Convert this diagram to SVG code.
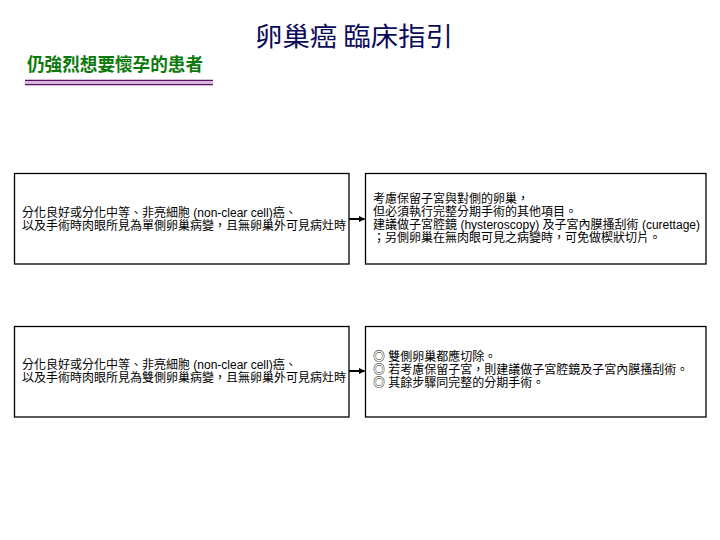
<svg xmlns="http://www.w3.org/2000/svg" width="720" height="540" viewBox="0 0 720 540">
<style>
.box{fill:#ffffff;stroke:#000000;stroke-width:1.3}
.t{font-family:"Liberation Sans","Noto Sans CJK TC",sans-serif;font-size:12px;fill:#000000}
.conn{stroke:#000000;stroke-width:2;fill:none}
</style>
<defs>
<marker id="ah" viewBox="0 0 10 10" refX="9" refY="5" markerWidth="3.2" markerHeight="3.2" orient="auto" markerUnits="strokeWidth">
<path d="M0,0 L10,5 L0,10 Z" fill="#000000"/>
</marker>
</defs>
<rect width="720" height="540" fill="#ffffff"/>
<g id="title">
<text x="255" y="46" font-family="'Noto Sans CJK TC',sans-serif" font-size="26" fill="#0a0a5a" textLength="198" lengthAdjust="spacingAndGlyphs">卵巢癌 臨床指引</text>
</g>
<g id="subtitle">
<text x="27" y="71" font-family="'Noto Sans CJK TC',sans-serif" font-size="18" font-weight="bold" fill="#0b7a0b" textLength="176" lengthAdjust="spacingAndGlyphs">仍強烈想要懷孕的患者</text>
<line x1="25" y1="80.5" x2="213" y2="80.5" stroke="#5e0a66" stroke-width="1.5"/>
<line x1="25" y1="82.5" x2="213" y2="82.5" stroke="#d8b0e0" stroke-width="1"/>
<line x1="25" y1="84.5" x2="213" y2="84.5" stroke="#5e0a66" stroke-width="1.5"/>
</g>
<g id="node1">
<rect class="box" x="14.5" y="173.5" width="334.5" height="90.5"/>
<text class="t" x="22" y="217">分化良好或分化中等、非亮細胞 (non-clear cell)癌、</text>
<text class="t" x="22" y="230" textLength="324" lengthAdjust="spacingAndGlyphs">以及手術時肉眼所見為單側卵巢病變，且無卵巢外可見病灶時</text>
</g>
<g id="node2">
<rect class="box" x="365.5" y="173.5" width="340.5" height="90.5"/>
<text class="t" x="373" y="203">考慮保留子宮與對側的卵巢，</text>
<text class="t" x="373" y="216">但必須執行完整分期手術的其他項目。</text>
<text class="t" x="373" y="229" textLength="327" lengthAdjust="spacingAndGlyphs">建議做子宮腔鏡 (hysteroscopy) 及子宮內膜搔刮術 (curettage)</text>
<text class="t" x="373" y="242">；另側卵巢在無肉眼可見之病變時，可免做楔狀切片。</text>
</g>
<g id="node3">
<rect class="box" x="14.5" y="326.5" width="334.5" height="90.5"/>
<text class="t" x="22" y="369">分化良好或分化中等、非亮細胞 (non-clear cell)癌、</text>
<text class="t" x="22" y="382" textLength="324" lengthAdjust="spacingAndGlyphs">以及手術時肉眼所見為雙側卵巢病變，且無卵巢外可見病灶時</text>
</g>
<g id="node4">
<rect class="box" x="365.5" y="326.5" width="340.5" height="90.5"/>
<text class="t" x="373" y="360.5">◎ 雙側卵巢都應切除。</text>
<text class="t" x="373" y="373.5">◎ 若考慮保留子宮，則建議做子宮腔鏡及子宮內膜搔刮術。</text>
<text class="t" x="373" y="386.5">◎ 其餘步驟同完整的分期手術。</text>
</g>
<g id="connectors">
<line class="conn" x1="349" y1="219" x2="364.5" y2="219" marker-end="url(#ah)"/>
<line class="conn" x1="349" y1="371" x2="364.5" y2="371" marker-end="url(#ah)"/>
</g>
</svg>
